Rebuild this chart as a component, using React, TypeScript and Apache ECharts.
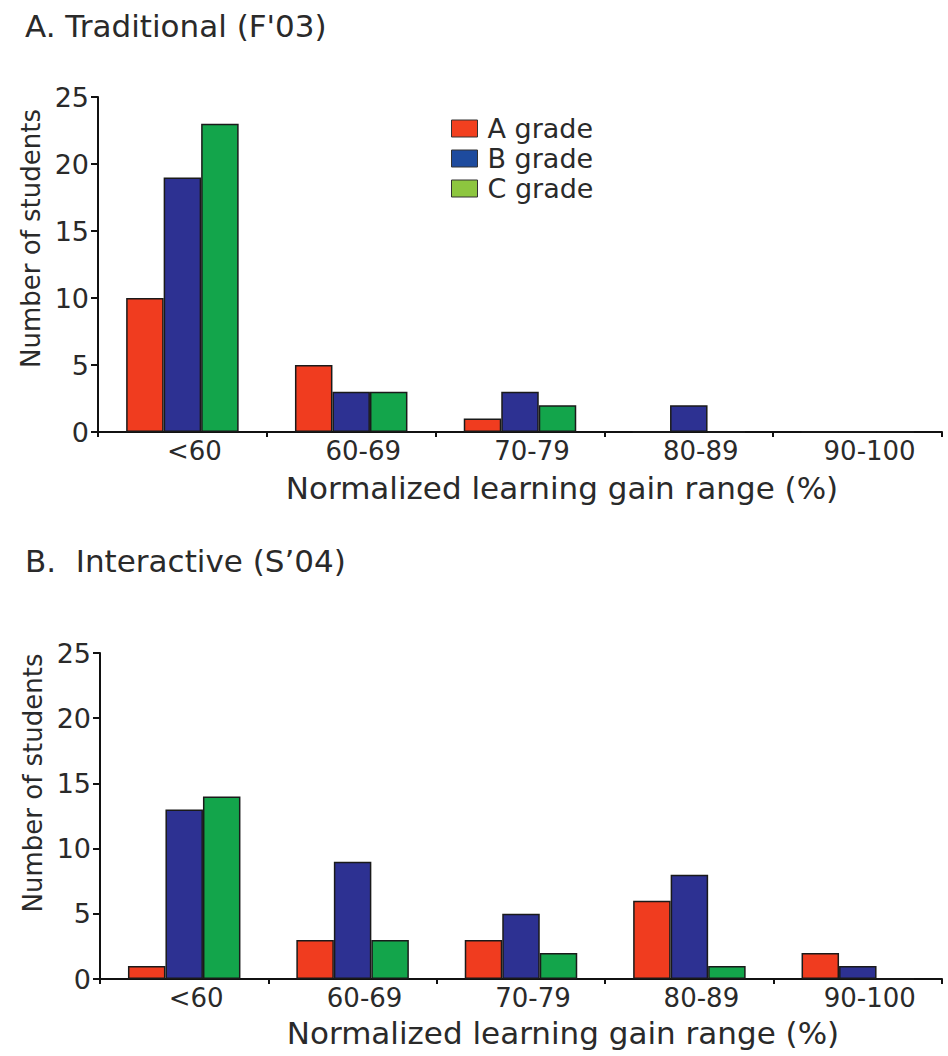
import React, { useEffect, useRef } from "react";
import * as echarts from "echarts";

const categories = ["<60", "60-69", "70-79", "80-89", "90-100"];
const gradeNames = ["A grade", "B grade", "C grade"];
const yTicks = [0, 5, 10, 15, 20, 25];

// Panel A: Traditional (F'03)
const tradA = [10, 5, 1, 0, 0];
const tradB = [19, 3, 3, 2, 0];
const tradC = [23, 3, 2, 0, 0];

// Panel B: Interactive (S'04)
const interA = [1, 3, 3, 6, 2];
const interB = [13, 9, 5, 8, 1];
const interC = [14, 3, 2, 1, 0];

const titleA = "A. Traditional (F'03)";
const titleB = "B.  Interactive (S\u201904)";
const xName = "Normalized learning gain range (%)";
const yName = "Number of students";

const barColors = ["#F03C1F", "#2D3192", "#13A54B"];
const legendColors = ["#F2401F", "#1E4B9E", "#8DC63F"];

const FONT = "DejaVu Sans";
const INK = "#2a2a2a";

export default function App() {
  const ref = useRef<HTMLDivElement>(null);

  useEffect(() => {
    if (!ref.current) return;
    const chart = echarts.init(ref.current, undefined, { renderer: "svg" });

    const xAxisBase = (nameGap: number) => ({
      type: "category",
      data: categories,
      name: xName,
      nameLocation: "middle",
      nameGap,
      nameTextStyle: {
        fontFamily: FONT,
        fontSize: 31,
        lineHeight: 32,
        color: INK,
        padding: [0, 0, 0, 84],
      },
      axisLine: { show: true, lineStyle: { color: "#111", width: 2 } },
      axisTick: { show: true, length: 5, alignWithLabel: false, lineStyle: { color: "#111", width: 2 } },
      axisLabel: {
        fontFamily: FONT,
        fontSize: 26,
        lineHeight: 24,
        color: INK,
        margin: 7,
        padding: [0, 0, 0, 24],
      },
      splitLine: { show: false },
    });

    const yAxisBase = (pad: number) => ({
      type: "value",
      min: 0,
      max: 25,
      interval: 5,
      name: yName,
      nameLocation: "middle",
      nameGap: 47,
      nameTextStyle: {
        fontFamily: FONT,
        fontSize: 26,
        color: INK,
        padding: [0, 0, 0, pad],
      },
      axisLine: { show: true, lineStyle: { color: "#111", width: 2 } },
      axisTick: { show: true, length: 7, inside: false, lineStyle: { color: "#111", width: 2 } },
      axisLabel: {
        fontFamily: FONT,
        fontSize: 27,
        color: INK,
        margin: 9,
        formatter: (v: number) => (yTicks.includes(v) ? String(v) : ""),
      },
      splitLine: { show: false },
    });

    const panels = [
      [tradA, tradB, tradC],
      [interA, interB, interC],
    ];

    const series: any[] = [];
    panels.forEach((vals, p) => {
      vals.forEach((d, i) => {
        series.push({
          type: "bar",
          name: gradeNames[i],
          xAxisIndex: p,
          yAxisIndex: p,
          data: d,
          barWidth: 37.5,
          barGap: "0%",
          itemStyle: {
            color: barColors[i],
            borderColor: "#1a1a1a",
            borderWidth: 1.5,
          },
        });
      });
    });

    chart.setOption({
      animation: false,
      backgroundColor: "#ffffff",
      title: [
        {
          text: titleA,
          left: 20,
          top: 5,
          textStyle: { fontFamily: FONT, fontSize: 31, fontWeight: "normal", color: INK },
        },
        {
          text: titleB,
          left: 20,
          top: 540,
          textStyle: { fontFamily: FONT, fontSize: 31, fontWeight: "normal", color: INK },
        },
      ],
      legend: {
        orient: "vertical",
        left: 446,
        top: 110,
        itemWidth: 26,
        itemHeight: 17,
        itemGap: 3,
        icon: "rect",
        textStyle: { fontFamily: FONT, fontSize: 27, color: INK, padding: [0, 0, 0, 5] },
        data: gradeNames.map((n, i) => ({
          name: n,
          itemStyle: { color: legendColors[i], borderColor: "#333", borderWidth: 1 },
        })),
      },
      grid: [
        { left: 98, right: 6, top: 97, bottom: 624, containLabel: false },
        { left: 100, right: 6, top: 653, bottom: 77, containLabel: false },
      ],
      xAxis: [
        { ...xAxisBase(40), gridIndex: 0 },
        { ...xAxisBase(38), gridIndex: 1 },
      ],
      yAxis: [
        { ...yAxisBase(52), gridIndex: 0 },
        { ...yAxisBase(66), gridIndex: 1 },
      ],
      series,
    });

    return () => {
      chart.dispose();
    };
  }, []);

  return (
    <div
      ref={ref}
      style={{ position: "absolute", left: 0, top: 0, width: 948, height: 1056, background: "#fff" }}
    />
  );
}
